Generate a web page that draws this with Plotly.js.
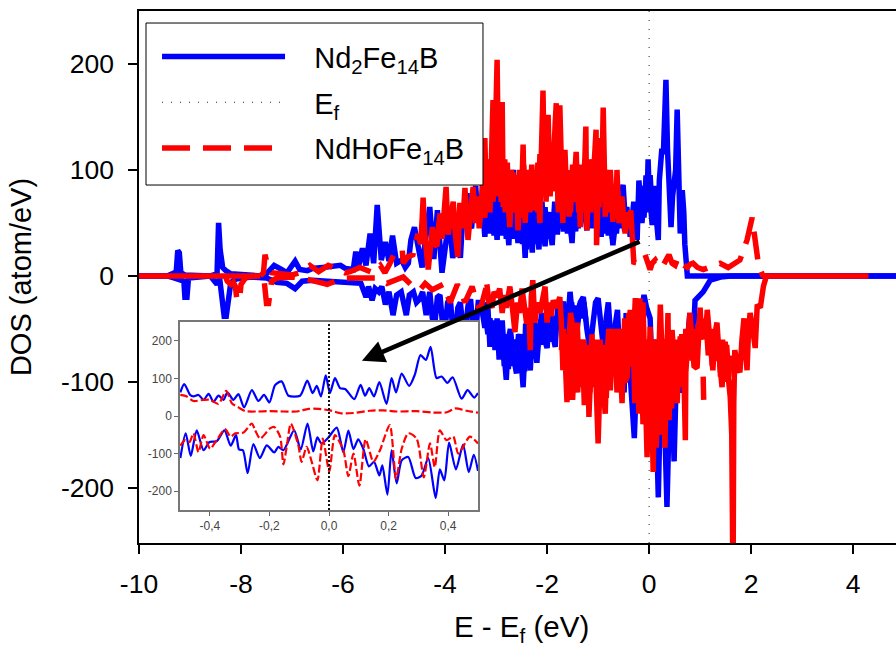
<!DOCTYPE html>
<html><head><meta charset="utf-8">
<script src="https://cdn.plot.ly/plotly-3.0.1.min.js"></script>
<style>html,body{margin:0;padding:0;background:#fff}</style>
</head><body><div id="chart" style="width:896px;height:647px"></div>
<script>
const blueUpX=[-10,-9.45,-9.35,-9.27,-9.24,-9.21,-9.18,-9.1,-8.6,-8.47,-8.44,-8.41,-8.36,-8.3,-8.2,-8,-7.6,-7.5,-7.35,-7.2,-7.1,-6.94,-6.85,-6.7,-6.6,-6.4,-6.2,-6.05,-5.95,
-5.8,-5.75,-5.7,-5.62,-5.55,-5.47,-5.4,-5.33,-5.25,-5.17,-5.1,-5.03,-4.95,-4.85,-4.78,-4.72,-4.67,-4.6,-4.53,-4.45,-4.4,-4.3,-4.22,-4.15,-4.06,-4,-3.92,-3.85,-3.75,
-3.70,-3.66,-3.62,-3.57,-3.53,-3.48,-3.44,-3.40,-3.36,-3.32,
-3.27,-3.22,-3.18,-3.14,-3.10,-3.06,-3.02,-2.98,-2.95,-2.92,
-2.88,-2.84,-2.80,-2.75,-2.71,-2.66,-2.62,-2.57,-2.54,-2.50,
-2.46,-2.43,-2.40,-2.36,-2.32,-2.29,-2.26,-2.22,-2.19,-2.16,
-2.13,-2.10,-2.07,-2.04,-2.00,-1.97,-1.93,-1.90,-1.87,-1.85,
-1.82,-1.80,-1.76,-1.72,-1.68,-1.64,-1.58,-1.54,-1.51,-1.48,
-1.45,-1.42,-1.39,-1.35,-1.30,-1.26,-1.22,-1.18,-1.15,-1.10,
-1.05,-1.00,-0.94,-0.90,-0.86,-0.82,-0.78,-0.74,-0.71,-0.66,
-0.62,-0.57,-0.51,-0.47,-0.44,-0.40,-0.37,-0.33,-0.30,-0.27,
-0.235,-0.2,-0.17,-0.14,-0.10,-0.07,-0.04,-0.02,0.00,0.02,
0.04,0.06,0.09,0.12,0.15,0.18,0.20,0.22,0.25,0.28,
0.31,0.33,0.36,0.38,0.40,0.43,0.46,0.49,0.52,0.55,
0.58,0.61,0.63,0.65,0.68,0.70,0.75,1,4.84];
const blueUpY=[0,0,2,4,24,22,3,1,0,2,50,25,8,5,2,1,0,2,10,6,3,14,6,5,7,8,9,10,7,
6,23,8,26,10,40,12,67,15,32,14,38,12,15,8,12,34,46,28,8,28,65,16,62,3,30,55,17,45,
17,50,60,78,50,45,70,85,55,60,
70,37,65,75,50,93,60,34,65,90,
70,107,60,29,70,100,55,31,60,70,
45,17,55,80,40,22,60,75,45,25,
55,70,45,28,55,60,40,29,55,70,
50,39,60,70,50,55,60,45,31,60,
70,55,45,65,80,60,43,70,85,60,
50,65,37,65,80,55,60,45,29,50,
60,70,86,55,65,50,37,55,70,45,
34,90,60,50,75,85,70,110,80,75,
60,48,65,70,50,34,90,114,120,115,
150,185,120,100,70,46,75,90,100,157,
90,40,70,81,60,30,0,0,0];

const blueUpFillX=[-3.20,-3.16,-3.12,-3.08,-3.04,-3.00,-2.96,-2.92,-2.88,-2.84,
-2.80,-2.76,-2.72,-2.68,-2.64,-2.60,-2.56,-2.52,-2.48,-2.44,
-2.40,-2.36,-2.32,-2.28,-2.24,-2.20,-2.16,-2.12,-2.08,-2.04,
-2.00,-1.96,-1.92,-1.88,-1.84,-1.80,-1.76,-1.72,-1.68,-1.64,
-1.60,-1.56,-1.52,-1.48,-1.44,-1.40,-1.36,-1.32,-1.28,-1.24,
-1.20,-1.16,-1.12,-1.08,-1.04,-1.00,-0.96,-0.92,-0.88,-0.84,
-0.80,-0.76,-0.72,-0.68,-0.64,-0.60,-0.56,-0.52,-0.48,-0.44,null,
-0.18,-0.14,-0.10,-0.06,-0.02,0.02,0.06,0.10,0.14,0.18];
const blueUpFillY=[45,70,40,75,38,70,42,75,38,80,
35,70,35,75,35,70,35,70,30,65,
25,65,28,60,30,65,32,60,35,65,
35,60,35,60,42,55,45,65,42,65,
40,60,38,65,42,70,50,75,52,80,
50,75,45,70,45,70,42,70,40,75,
38,65,35,60,40,65,45,70,42,65,null,
55,85,55,95,60,95,60,85,55,75];

const blueDownX=[-10,-9.45,-9.3,-9.2,-9.12,-9.1,-9.06,-9.03,-8.6,-8.47,-8.42,-8.33,-8.29,-8.2,-8.1,-7.8,-7.5,-7.3,-7.1,-6.94,-6.8,-6.6,-6.3,-6,-5.8,-5.65,
-5.55,-5.50,-5.43,-5.37,-5.30,-5.24,-5.17,-5.10,-5.02,-4.95,
-4.86,-4.80,-4.76,-4.70,-4.62,-4.56,-4.50,-4.44,-4.37,-4.30,
-4.25,-4.20,-4.15,-4.10,-4.05,-4.00,-3.95,-3.90,-3.85,-3.80,
-3.75,-3.70,-3.65,-3.60,-3.55,-3.50,-3.45,-3.40,-3.35,-3.30,
-3.26,-3.22,-3.19,-3.16,-3.12,-3.09,-3.06,-3.02,-2.98,-2.94,
-2.91,-2.88,-2.84,-2.80,-2.76,-2.72,-2.68,-2.64,-2.60,-2.56,
-2.53,-2.50,-2.47,-2.44,-2.42,-2.38,-2.33,-2.29,-2.25,-2.22,
-2.20,-2.15,-2.10,-2.05,-2.00,-1.97,-1.94,-1.89,-1.84,-1.81,
-1.78,-1.73,-1.68,-1.62,-1.58,-1.55,-1.50,-1.47,-1.44,-1.41,
-1.35,-1.29,-1.22,-1.16,-1.10,-1.05,-1.00,-0.94,-0.88,-0.84,
-0.80,-0.75,-0.70,-0.66,-0.62,-0.58,-0.53,-0.49,-0.45,-0.40,
-0.35,-0.32,-0.29,-0.25,-0.22,-0.17,-0.10,-0.05,0.02,0.06,
0.10,0.14,0.18,0.22,0.25,0.30,0.35,0.40,0.45,0.49,
0.53,0.57,0.63,0.70,0.75,0.80,0.86,0.90,1.06,1.2,1.4,1.6,4.84];
const blueDownY=[0,0,-2,-3,-5,-20,-20,-2,0,-8,-2,-38,-38,-6,-3,-1,-2,-6,-7,-12,-5,-4,-5,-6,-6,-7,
-20,-10,-23,-12,-15,-10,-27,-15,-37,-18,
-15,-30,-37,-18,-15,-25,-22,-15,-37,-15,
-40,-45,-20,-18,-45,-50,-25,-20,-50,-55,
-30,-25,-50,-50,-28,-22,-50,-55,-25,-25,
-40,-49,-25,-30,-67,-45,-45,-70,-40,-79,
-50,-42,-75,-98,-60,-50,-70,-85,-92,-60,
-55,-85,-105,-75,-45,-75,-89,-55,-40,-70,
-82,-50,-35,-60,-68,-45,-34,-55,-67,-40,
-28,-45,-24,-60,-35,-15,-40,-55,-30,-50,
-25,-20,-50,-70,-45,-25,-21,-55,-75,-40,
-25,-60,-80,-45,-32,-75,-95,-110,-35,-70,
-95,-125,-153,-100,-70,-40,-18,-30,-40,-90,
-60,-140,-209,-120,-60,-130,-218,-120,-110,-175,
-100,-86,-110,-90,-60,-35,-67,-23,-15,-4,-1,0,0];

const blueDownFillX=[-3.20,-3.16,-3.12,-3.08,-3.04,-3.00,-2.96,-2.92,-2.88,-2.84,
-2.80,-2.76,-2.72,-2.68,-2.64,-2.60,-2.56,-2.52,-2.48,-2.44,
-2.40,-2.36,-2.32,-2.28,-2.24,-2.20,-2.16,-2.12,-2.08,-2.04,
-2.00,-1.96,-1.92,-1.88,-1.84,-1.80,-1.76,-1.72,-1.68,-1.64,
-1.60,-1.56,-1.52,-1.48,-1.44,-1.40,-1.36,-1.32,-1.28,-1.24];
const blueDownFillY=[-40,-55,-40,-60,-42,-68,-45,-72,-50,-85,
-55,-88,-55,-85,-60,-82,-55,-80,-68,-90,
-70,-82,-60,-78,-55,-70,-48,-65,-40,-62,
-45,-62,-40,-60,-38,-50,-35,-48,-30,-45,
-30,-42,-25,-40,-28,-42,-26,-40,-25,-42];

const redUpLeftX=[-7.62,-7.56,-7.53,-7.47,-7.4,-7.2,-7,-6.85,-6.65,-6.48,-6.29,-5.96,-5.86,-5.67,-5.41,-5.27,-5.18,-5.08,-4.98,-4.84,-4.82,-4.73,-4.63,-4.53];
const redUpLeftY=[0,3,20,8,3,2,1,3,10,4,10,3,4,8,3,10,3,12,23,25,12,18,20,40];

const redUpDenseX=[-4.53,-4.48,-4.45,-4.43,-4.40,-4.36,-4.33,-4.29,-4.25,-4.20,
-4.16,-4.13,-4.10,-4.06,-4.02,-3.98,-3.94,-3.90,-3.87,-3.84,
-3.80,-3.75,-3.71,-3.67,-3.64,-3.61,-3.58,-3.55,-3.50,
-3.45,-3.40,-3.37,-3.33,-3.28,-3.25,-3.22,-3.19,-3.16,-3.12,
-3.09,-3.06,-3.03,-3.00,-2.98,-2.96,-2.93,-2.90,-2.88,-2.86,
-2.83,-2.80,-2.78,-2.75,-2.73,-2.70,-2.67,-2.64,-2.60,-2.57,
-2.54,-2.51,-2.47,-2.45,-2.43,-2.40,-2.37,-2.34,-2.30,-2.27,
-2.24,-2.21,-2.18,-2.16,-2.14,-2.11,-2.08,-2.06,-2.04,-2.01,
-1.98,-1.95,-1.92,-1.90,-1.87,-1.84,-1.82,-1.80,-1.78,-1.75,
-1.72,-1.69,-1.67,-1.65,-1.62,-1.59,-1.57,-1.53,-1.49,-1.46,
-1.43,-1.40,-1.38,-1.35,-1.32,-1.29,-1.26,-1.24,-1.22,-1.19,
-1.16,-1.13,-1.10,-1.07,-1.04,-1.03,-1.00,-0.96,-0.93,-0.90,
-0.88,-0.86,-0.83,-0.80,-0.76,-0.73,-0.71,-0.68,-0.65,-0.63,
-0.61,-0.59,-0.56,-0.53,-0.50,-0.47,-0.43,-0.40,-0.36,-0.33];
const redUpDenseY=[40,30,53,74,40,20,6,25,46,30,
28,45,59,35,60,84,39,50,60,70,
40,18,69,45,60,83,55,34,60,
84,50,75,45,70,55,130,69,110,60,
142,166,100,190,204,128,90,150,164,65,
110,70,107,60,46,85,98,60,85,43,
75,55,124,75,50,90,100,60,85,62,
90,70,107,65,50,120,175,110,81,130,
152,95,120,80,130,145,163,95,60,161,
90,50,95,119,80,100,56,90,70,105,
117,75,95,46,85,60,115,141,43,80,
70,110,85,125,138,29,90,130,80,159,
110,56,95,70,100,70,51,80,60,100,
75,50,65,75,55,40,60,45,62,37];

const redUpFillX=[-3.30,-3.26,-3.22,-3.18,-3.14,-3.10,-3.06,-3.02,-2.98,-2.94,
-2.90,-2.86,-2.82,-2.78,-2.74,-2.70,-2.66,-2.62,-2.58,-2.54,
-2.50,-2.46,-2.42,-2.38,-2.34,-2.30,-2.26,-2.22,-2.18,-2.14,
-2.10,-2.06,-2.02,-1.98,-1.94,-1.90,-1.86,-1.82,-1.78,-1.74,
-1.70,-1.66,-1.62,-1.58,-1.54,-1.50,-1.46,-1.42,-1.38,-1.34,
-1.30,-1.26,-1.22,-1.18,-1.14,-1.10,-1.06,-1.02,-0.98,-0.94,
-0.90,-0.86,-0.82,-0.78,-0.74,-0.70,-0.66,-0.62,-0.58,-0.54];
const redUpFillY=[60,95,55,100,65,110,70,120,75,110,
70,105,60,95,65,100,60,95,60,100,
65,105,70,95,65,105,70,100,60,115,
75,125,70,120,75,125,80,115,65,120,
70,100,65,95,60,105,70,100,60,105,
65,110,70,105,60,110,70,105,65,115,
70,100,60,95,60,85,55,80,50,70];

const redUpRightX=[-0.33,-0.32,-0.31,-0.30,-0.22,-0.14,-0.08,0.02,0.06,0.12,0.18,0.25,0.32,0.39,0.45,0.51,0.56,0.61,0.68,0.75,0.80,0.86,0.95,1.06,1.39,1.55,1.78,1.92,2.02,2.08,2.14,2.22,2.3];
const redUpRightY=[37,24,13,13,12,16,20,6,12,15,10,8,14,20,12,10,16,17,10,8,11,12,8,6,12,8,15,34,55,34,12,1,0];

const redDownLeftX=[-8.3,-8.27,-8.2,-8.15,-8.11,-8.08,-8.03,-8,-7.9,-7.62,-7.55,-7.5,-7.46,-7.4,-7.3,-7,-6.8,-6.6,-6.31,-6,-5.7,-5.33,-5.14,-4.82,-4.63,-4.49,-4.39,-4.25,-4.04,-3.9,-3.76,-3.61,-3.47,-3.37,-3.31,-3.18];
const redDownLeftY=[-1,-5,-8,-6,-10,-23,-23,-8,-1,0,-3,-26,-26,-5,-2,-1,-2,-5,-8,-2,-2,-2,-7,-1,-10,-13,-7,-13,-8,-25,-8,-25,-10,-27,-32,-8];

const redDownDenseX=[-3.18,-3.14,-3.08,-3.04,-2.98,-2.93,-2.88,-2.84,-2.80,-2.76,
-2.73,-2.68,-2.63,-2.58,-2.54,-2.49,-2.45,-2.40,-2.36,-2.33,
-2.31,-2.28,-2.24,-2.19,-2.14,-2.09,-2.04,-2.00,-1.96,-1.92,
-1.88,-1.82,-1.75,-1.72,-1.69,-1.66,-1.64,-1.61,-1.57,-1.54,
-1.51,-1.50,-1.46,-1.43,-1.41,-1.38,-1.35,-1.31,-1.27,-1.24,
-1.20,-1.18,-1.15,-1.12,-1.06,-1.03,-1.00,-0.97,-0.92,-0.89,
-0.86,-0.83,-0.79,-0.76,-0.73,-0.67,-0.63,-0.60,-0.57,-0.53,
-0.50,-0.47,-0.43,-0.40,-0.37,-0.33,-0.30,-0.27,-0.23,-0.20,
-0.18,-0.16,-0.14,-0.12,-0.09,-0.06,-0.04,-0.01,0.02,0.05,
0.08,0.10,0.12,0.14,0.17,0.22,0.25,0.27,0.29,0.31,
0.34,0.37,0.39,0.42,0.45,0.49,0.52,0.55,0.58,0.61,
0.65,0.68,0.71,0.72,0.76,0.80,0.84,0.88,0.94,0.97,1.00,1.03,null,
1.06,1.07,null,1.10,1.14,1.19,1.25,1.29,1.33,1.38,1.43,
1.46,1.49,1.54,1.59,1.62,1.645,1.66,1.68,1.73,1.78,
1.82,1.86,1.89,1.92,1.95,1.98,2.03,2.08,2.12,2.18,2.24,2.30];
const redDownDenseY=[-8,-25,-30,-15,-20,-12,-35,-18,-30,-12,
-10,-30,-53,-25,-35,-12,-25,-45,-30,-70,
-20,-4,-44,-25,-35,-20,-10,-44,-25,-38,
-23,-30,-20,-44,-89,-60,-100,-119,-60,-35,
-44,-117,-75,-50,-44,-80,-89,-60,-122,-90,
-72,-133,-90,-60,-72,-110,-158,-110,-67,-110,
-130,-80,-50,-108,-70,-51,-110,-85,-76,-120,
-60,-100,-95,-55,-32,-85,-60,-21,-70,-120,
-21,-80,-123,-25,-90,-130,-171,-100,-48,-120,
-185,-120,-60,-162,-90,-27,-70,-60,-110,-162,
-90,-35,-136,-90,-51,-80,-100,-120,-80,-57,
-90,-85,-155,-91,-60,-35,-60,-85,-87,-50,-30,-60,null,
-95,-117,null,-60,-32,-60,-89,-55,-44,-80,-105,
-75,-62,-90,-114,-150,-300,-120,-70,-85,-91,
-60,-40,-70,-89,-50,-35,-50,-68,-27,-30,-10,0];

const redDownFillX=[-1.72,-1.68,-1.64,-1.60,-1.56,-1.52,-1.48,-1.44,-1.40,-1.36,
-1.32,-1.28,-1.24,-1.20,-1.16,-1.12,-1.08,-1.04,-1.00,-0.96,
-0.92,-0.88,-0.84,-0.80,-0.76,-0.72,-0.68,-0.64,-0.60,-0.56,
-0.52,-0.48,-0.44,-0.40,-0.36,-0.32,-0.28,-0.24,-0.20,-0.16,
-0.12,-0.08,-0.04,0.00,0.04,0.08,0.12,0.16,0.20,0.24,
0.28,0.32,0.36,0.40,0.44,0.48,0.52,0.56,0.60,0.64,
0.68,0.72,0.76,0.80,0.84,0.88,0.92,0.96,1.00,1.04,null,
1.12,1.16,1.20,1.24,1.28,1.32,1.36,1.40,1.44,1.48,1.52,1.56,1.60];
const redDownFillY=[-70,-50,-85,-55,-100,-60,-105,-65,-110,-60,
-105,-60,-115,-65,-110,-55,-105,-60,-115,-60,
-110,-65,-115,-60,-95,-50,-95,-50,-100,-50,
-105,-40,-90,-35,-85,-45,-120,-60,-130,-55,
-140,-60,-150,-70,-150,-75,-150,-60,-150,-55,
-140,-60,-135,-65,-125,-70,-110,-60,-105,-55,
-100,-50,-70,-45,-80,-50,-85,-45,-60,-40,null,
-45,-75,-50,-85,-55,-80,-60,-95,-60,-100,-65,-95,-75];

const redZeroX=[-10,-7.62,null,2.3,4.3];
const redZeroY=[0,0,null,0,0];
const fermiX=[0,0];
const fermiY=[-252,250];

const insetBlueUpX=[-0.499,-0.486,-0.466,-0.455,-0.438,-0.421,-0.404,-0.388,-0.371,-0.354,-0.341,-0.321,-0.304,-0.285,-0.259,-0.237,-0.218,-0.2,-0.181,-0.159,-0.136,-0.097,-0.073,-0.055,-0.041,-0.027,-0.011,0.003,0.02,0.037,0.054,0.085,0.106,0.121,0.135,0.151,0.169,0.193,0.21,0.225,0.244,0.269,0.288,0.307,0.325,0.341,0.361,0.378,0.397,0.415,0.445,0.465,0.487,0.5];
const insetBlueUpY=[63,85,56,52,56,43,59,38,54,43,63,43,58,23,69,40,56,36,82,92,54,54,94,61,80,52,108,61,101,74,72,45,83,54,74,52,90,32,101,63,113,80,110,162,149,184,101,105,88,103,46,69,49,61];
const insetBlueDownX=[-0.499,-0.481,-0.464,-0.444,-0.421,-0.401,-0.377,-0.351,-0.33,-0.312,-0.302,-0.289,-0.273,-0.254,-0.232,-0.209,-0.184,-0.17,-0.153,-0.117,-0.095,-0.072,-0.053,-0.039,-0.025,-0.002,0.026,0.048,0.065,0.082,0.098,0.115,0.134,0.151,0.169,0.179,0.196,0.21,0.227,0.244,0.266,0.291,0.311,0.333,0.358,0.372,0.387,0.403,0.426,0.45,0.469,0.486,0.5];
const insetBlueDownY=[-112,-46,-106,-38,-91,-69,-67,-38,-79,-51,-89,-91,-152,-75,-112,-78,-97,-82,-91,-38,-89,-20,-94,-57,-73,-57,-31,-96,-39,-88,-62,-87,-134,-122,-158,-131,-209,-91,-179,-118,-109,-165,-158,-112,-218,-142,-171,-71,-142,-76,-149,-103,-146];
const insetRedUpX=[-0.499,-0.477,-0.455,-0.421,-0.399,-0.371,-0.345,-0.326,-0.304,-0.281,-0.242,-0.198,-0.153,-0.108,-0.069,-0.036,0.003,0.042,0.082,0.137,0.182,0.227,0.294,0.35,0.395,0.423,0.462,0.5];
const insetRedUpY=[56,52,40,43,43,32,67,34,23,13,12,13,12,12,19,19,15,7,8,14,15,12,13,9,10,20,14,9];
const insetRedDownX=[-0.499,-0.483,-0.468,-0.455,-0.438,-0.421,-0.399,-0.377,-0.349,-0.33,-0.315,-0.287,-0.259,-0.248,-0.231,-0.198,-0.184,-0.164,-0.153,-0.142,-0.128,-0.103,-0.092,-0.075,-0.058,-0.039,-0.021,0.001,0.02,0.048,0.065,0.082,0.102,0.123,0.149,0.171,0.204,0.225,0.244,0.266,0.294,0.318,0.339,0.355,0.372,0.394,0.417,0.434,0.473,0.5];
const insetRedDownY=[-79,-64,-69,-46,-96,-51,-87,-64,-35,-55,-46,-44,-20,-38,-60,-33,-29,-55,-129,-82,-20,-78,-122,-82,-122,-171,-60,-147,-51,-91,-160,-100,-185,-62,-122,-91,-24,-167,-87,-46,-60,-163,-73,-136,-38,-64,-55,-100,-55,-73];
const insetFermiX=[0,0];
const insetFermiY=[-250,250];

const mainXTicks=[-10,-8,-6,-4,-2,0,2,4];
const mainXLabels=['-10','-8','-6','-4','-2','0','2','4'];
const mainYTicks=[-200,-100,0,100,200];
const mainYLabels=['-200','-100','0','100','200'];
const insetXTicks=[-0.4,-0.2,0,0.2,0.4];
const insetXLabels=['-0,4','-0,2','0,0','0,2','0,4'];

const lead='&nbsp;&nbsp;&nbsp;';
const nameA=lead+'Nd<sub>2</sub>Fe<sub>14</sub>B';
const nameB=lead+'E<sub>f</sub>';
const nameC=lead+'NdHoFe<sub>14</sub>B';

const BLUE='#0000ff', RED='#ff0000';
const mainLine=(c,dash)=>({color:c,width:5.5,dash:dash||'solid'});
const redDash='28px,13px';
const insetSpline={shape:'spline',smoothing:0.7};
const traces=[
 {x:blueUpX,y:blueUpY,mode:'lines',name:nameA,legendgroup:'a',line:mainLine(BLUE)},
 {x:blueUpFillX,y:blueUpFillY,mode:'lines',legendgroup:'a',showlegend:false,line:mainLine(BLUE)},
 {x:blueDownX,y:blueDownY,mode:'lines',name:nameA,legendgroup:'a',showlegend:false,line:mainLine(BLUE)},
 {x:blueDownFillX,y:blueDownFillY,mode:'lines',legendgroup:'a',showlegend:false,line:mainLine(BLUE)},
 {x:fermiX,y:fermiY,mode:'lines',name:nameB,legendgroup:'b',line:{color:'#222',width:1,dash:'1px,8px'}},
 {x:redUpLeftX,y:redUpLeftY,mode:'lines',name:nameC,legendgroup:'c',line:mainLine(RED,redDash)},
 {x:redUpDenseX,y:redUpDenseY,mode:'lines',legendgroup:'c',showlegend:false,line:mainLine(RED)},
 {x:redUpFillX,y:redUpFillY,mode:'lines',legendgroup:'c',showlegend:false,line:mainLine(RED)},
 {x:redUpRightX,y:redUpRightY,mode:'lines',legendgroup:'c',showlegend:false,line:mainLine(RED,redDash)},
 {x:redDownLeftX,y:redDownLeftY,mode:'lines',legendgroup:'c',showlegend:false,line:mainLine(RED,redDash)},
 {x:redDownDenseX,y:redDownDenseY,mode:'lines',legendgroup:'c',showlegend:false,line:mainLine(RED)},
 {x:redDownFillX,y:redDownFillY,mode:'lines',legendgroup:'c',showlegend:false,line:mainLine(RED)},
 {x:redZeroX,y:redZeroY,mode:'lines',legendgroup:'c',showlegend:false,line:mainLine(RED)},
 {x:insetBlueUpX,y:insetBlueUpY,xaxis:'x2',yaxis:'y2',mode:'lines',showlegend:false,line:{color:BLUE,width:2.2,...insetSpline}},
 {x:insetBlueDownX,y:insetBlueDownY,xaxis:'x2',yaxis:'y2',mode:'lines',showlegend:false,line:{color:BLUE,width:2.2,...insetSpline}},
 {x:insetRedUpX,y:insetRedUpY,xaxis:'x2',yaxis:'y2',mode:'lines',showlegend:false,line:{color:RED,width:2.2,dash:'8px,3px',...insetSpline}},
 {x:insetRedDownX,y:insetRedDownY,xaxis:'x2',yaxis:'y2',mode:'lines',showlegend:false,line:{color:RED,width:2.2,dash:'8px,3px',...insetSpline}},
 {x:insetFermiX,y:insetFermiY,xaxis:'x2',yaxis:'y2',mode:'lines',showlegend:false,line:{color:'#111',width:2,dash:'2px,2px'}}
];
const FONT='"Liberation Sans",Arial,sans-serif';
const layout={
 width:896,height:647,
 margin:{l:139,r:0,t:11,b:104,pad:0},
 paper_bgcolor:'#fff',plot_bgcolor:'#fff',
 font:{family:FONT,size:26.5,color:'#000'},
 showlegend:true,
 legend:{x:0.0238,y:0.962,xanchor:'left',yanchor:'top',bgcolor:'rgba(0,0,0,0)',borderwidth:0,
   itemwidth:123,entrywidth:300,traceorder:'grouped',tracegroupgap:5,font:{family:FONT,size:29,color:'#000'}},
 shapes:[{type:'rect',xref:'paper',yref:'paper',x0:0.00925,x1:0.4544,y0:0.6729,y1:0.9774,fillcolor:'#fff',line:{color:'#000',width:1},layer:'above'}],
 xaxis:{domain:[0,1],range:[-10,4.84],tickmode:'array',tickvals:mainXTicks,ticktext:mainXLabels,ticks:'outside',ticklen:9,tickwidth:1.5,tickcolor:'#000',
   showline:true,linecolor:'#000',linewidth:1.5,mirror:true,showgrid:false,zeroline:false,ticklabelstandoff:7,
   title:{text:'&nbsp;E - E<sub>f</sub> (eV)',font:{family:FONT,size:29.5},standoff:27}},
 yaxis:{domain:[0,1],range:[-252,250],tickmode:'array',tickvals:mainYTicks,ticktext:mainYLabels,ticks:'outside',ticklen:9,tickwidth:1.5,tickcolor:'#000',
   showline:true,linecolor:'#000',linewidth:1.5,showgrid:false,zeroline:false,ticklabelstandoff:9,
   title:{text:'DOS (atom/eV)',font:{family:FONT,size:29},standoff:21}},
 xaxis2:{domain:[0.0542,0.4478],anchor:'y2',range:[-0.5,0.5],tickmode:'array',tickvals:insetXTicks,ticktext:insetXLabels,ticks:'outside',ticklen:4,tickwidth:1,tickcolor:'#666',
   showline:true,linecolor:'#777',linewidth:1.5,mirror:true,showgrid:false,zeroline:false,tickfont:{family:FONT,size:12,color:'#444'}},
 yaxis2:{domain:[0.062,0.4154],anchor:'x2',range:[-250,250],tickmode:'array',tickvals:mainYTicks,ticktext:mainYLabels,ticks:'outside',ticklen:4,tickwidth:1,tickcolor:'#666',
   showline:true,linecolor:'#777',linewidth:1.5,mirror:true,showgrid:false,zeroline:false,tickfont:{family:FONT,size:12,color:'#444'}},
 annotations:[{x:-5.63,y:-80,ax:-0.157,ay:33,xref:'x',yref:'y',axref:'x',ayref:'y',text:'',showarrow:true,arrowhead:2,arrowsize:1,arrowwidth:4.5,arrowcolor:'#000'}]
};
Plotly.newPlot('chart',traces,layout,{displayModeBar:false,responsive:false});
</script></body></html>
